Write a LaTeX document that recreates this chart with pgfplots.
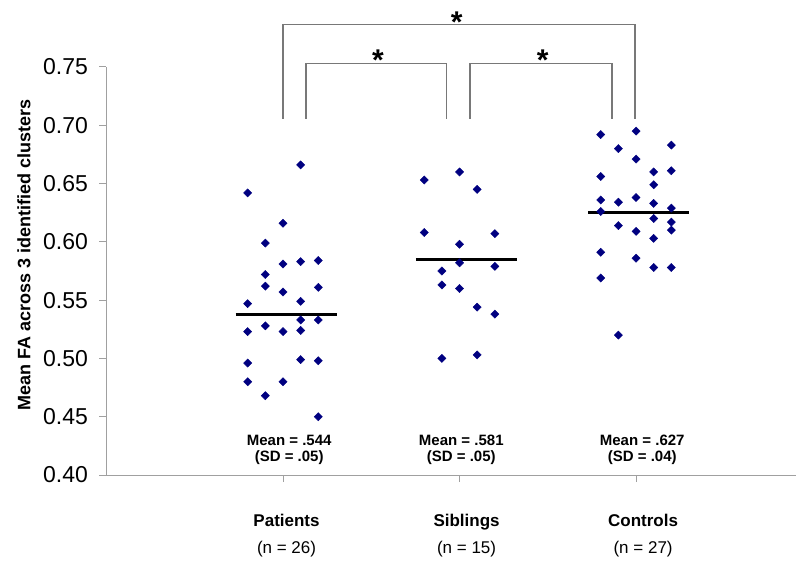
\documentclass[border=0pt]{standalone}
\usepackage{pgfplots}
\pgfplotsset{compat=1.18}
\usepackage{fontspec}
\setmainfont{Liberation Sans}
\definecolor{navy}{RGB}{0,0,128}
\definecolor{axisgray}{RGB}{160,160,160}
\definecolor{brgray}{RGB}{120,120,120}
\pgfplotstableread{
x y
0.8 0.642
0.8 0.547
0.8 0.523
0.8 0.496
0.8 0.480
0.9 0.599
0.9 0.572
0.9 0.562
0.9 0.528
0.9 0.468
1.0 0.616
1.0 0.581
1.0 0.557
1.0 0.523
1.0 0.480
1.1 0.666
1.1 0.583
1.1 0.549
1.1 0.533
1.1 0.524
1.1 0.499
1.2 0.584
1.2 0.561
1.2 0.533
1.2 0.498
1.2 0.450
}\patients
\pgfplotstableread{
x y
1.8 0.653
1.8 0.608
1.9 0.575
1.9 0.563
1.9 0.500
2.0 0.660
2.0 0.598
2.0 0.582
2.0 0.560
2.1 0.645
2.1 0.544
2.1 0.503
2.2 0.607
2.2 0.579
2.2 0.538
}\siblings
\pgfplotstableread{
x y
2.8 0.692
2.8 0.656
2.8 0.636
2.8 0.626
2.8 0.591
2.8 0.569
2.9 0.680
2.9 0.634
2.9 0.614
2.9 0.520
3.0 0.695
3.0 0.671
3.0 0.638
3.0 0.609
3.0 0.586
3.1 0.660
3.1 0.649
3.1 0.633
3.1 0.620
3.1 0.603
3.1 0.578
3.2 0.683
3.2 0.661
3.2 0.629
3.2 0.617
3.2 0.610
3.2 0.578
}\controls
\begin{document}
\begin{tikzpicture}
\useasboundingbox (-106.5pt,-93pt) rectangle (689.5pt,475pt);
\begin{axis}[
  scale only axis, width=690pt, height=408pt,
  xmin=0, xmax=3.909, ymin=0.40, ymax=0.75,
  axis x line*=bottom, axis y line*=left,
  axis line style={axisgray, line width=1pt},
  tick style={axisgray, line width=1pt},
  tick align=outside, major tick length=7pt,
  xtick={1,2,3}, xticklabels={},
  ytick={0.40,0.45,0.50,0.55,0.60,0.65,0.70,0.75},
  yticklabel style={/pgf/number format/fixed, /pgf/number format/fixed zerofill,
    /pgf/number format/precision=2, /pgf/number format/assume math mode=true,
    font=\fontsize{23}{23}\selectfont, black, xshift=-8pt},
  ylabel={\textbf{Mean FA across 3 identified clusters}},
  ylabel style={at={(axis cs:-0.467,0.5887)}, anchor=center, font=\fontsize{18}{18}\selectfont},
  clip=false,
]
\addplot[only marks, mark=square*, mark size=2.9pt, mark options={rotate=45, fill=navy, draw=navy, line width=0.4pt}] table[x=x,y=y] {\patients};
\addplot[only marks, mark=square*, mark size=2.9pt, mark options={rotate=45, fill=navy, draw=navy, line width=0.4pt}] table[x=x,y=y] {\siblings};
\addplot[only marks, mark=square*, mark size=2.9pt, mark options={rotate=45, fill=navy, draw=navy, line width=0.4pt}] table[x=x,y=y] {\controls};
% group means as drawn
\addplot[black, line width=3pt] coordinates {(0.732,0.5378) (1.304,0.5378)};
\addplot[black, line width=3pt] coordinates {(1.752,0.5850) (2.324,0.5850)};
\addplot[black, line width=3pt] coordinates {(2.728,0.6248) (3.300,0.6248)};
% significance brackets
\addplot[brgray, line width=1.2pt] coordinates {(1.0,0.7054) (1.0,0.7866) (2.994,0.7866) (2.994,0.7054)};
\addplot[brgray, line width=1.2pt] coordinates {(1.130,0.7054) (1.130,0.7532) (1.927,0.7532) (1.927,0.7054)};
\addplot[brgray, line width=1.2pt] coordinates {(2.059,0.7054) (2.059,0.7532) (2.864,0.7532) (2.864,0.7054)};
\node[anchor=base, font=\fontsize{30}{30}\selectfont\bfseries, inner sep=0pt] at (axis cs:1.984,0.7800) {*};
\node[anchor=base, font=\fontsize{30}{30}\selectfont\bfseries, inner sep=0pt] at (axis cs:1.538,0.7470) {*};
\node[anchor=base, font=\fontsize{30}{30}\selectfont\bfseries, inner sep=0pt] at (axis cs:2.471,0.7470) {*};
% mean / SD annotations
\node[anchor=base, font=\fontsize{15}{15}\selectfont\bfseries, inner sep=0pt] at (axis cs:1.035,0.4249) {Mean = .544};
\node[anchor=base, font=\fontsize{15}{15}\selectfont\bfseries, inner sep=0pt] at (axis cs:1.035,0.4120) {(SD = .05)};
\node[anchor=base, font=\fontsize{15}{15}\selectfont\bfseries, inner sep=0pt] at (axis cs:2.01,0.4249) {Mean = .581};
\node[anchor=base, font=\fontsize{15}{15}\selectfont\bfseries, inner sep=0pt] at (axis cs:2.01,0.4120) {(SD = .05)};
\node[anchor=base, font=\fontsize{15}{15}\selectfont\bfseries, inner sep=0pt] at (axis cs:3.035,0.4249) {Mean = .627};
\node[anchor=base, font=\fontsize{15}{15}\selectfont\bfseries, inner sep=0pt] at (axis cs:3.035,0.4120) {(SD = .04)};
% category labels
\node[anchor=base, font=\fontsize{17}{17}\selectfont\bfseries, inner sep=0pt] at (axis cs:1.02,0.3562) {Patients};
\node[anchor=base, font=\fontsize{17}{17}\selectfont, inner sep=0pt] at (axis cs:1.02,0.3325) {(n = 26)};
\node[anchor=base, font=\fontsize{17}{17}\selectfont\bfseries, inner sep=0pt] at (axis cs:2.04,0.3562) {Siblings};
\node[anchor=base, font=\fontsize{17}{17}\selectfont, inner sep=0pt] at (axis cs:2.04,0.3325) {(n = 15)};
\node[anchor=base, font=\fontsize{17}{17}\selectfont\bfseries, inner sep=0pt] at (axis cs:3.04,0.3562) {Controls};
\node[anchor=base, font=\fontsize{17}{17}\selectfont, inner sep=0pt] at (axis cs:3.04,0.3325) {(n = 27)};
\end{axis}
\end{tikzpicture}
\end{document}
